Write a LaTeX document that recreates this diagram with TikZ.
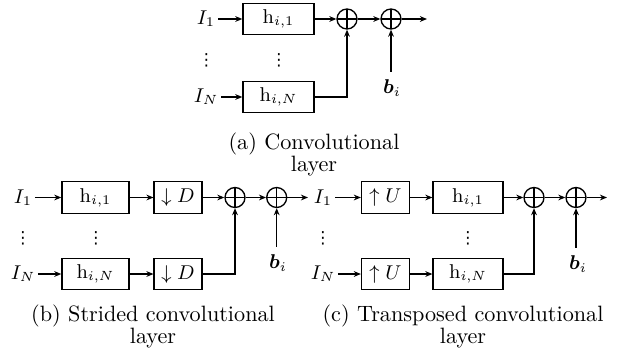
\documentclass[tikz,border=0pt]{standalone}
\usepackage{amsmath}
\usepackage{fontspec}
\newfontfamily\djv{DejaVu Sans}
\usetikzlibrary{arrows.meta}
\newcommand\shortvdots{{\djv\fontsize{7.5}{8}\selectfont ⋮}}
\begin{document}
\begin{tikzpicture}[x=0.4505pt,y=-0.4505pt,
  >={Stealth[length=3.2pt,width=2.6pt]},
  line width=0.6pt,
  every node/.style={font=\fontsize{9}{10}\selectfont},
  blk/.style={draw,minimum height=14.2pt,inner sep=0pt},
  hbox/.style={blk,minimum width=31.5pt},
  rbox/.style={blk,minimum width=21.5pt},
  sum/.style={draw,circle,minimum size=9pt,inner sep=0pt,
    path picture={\draw[line width=0.6pt] (path picture bounding box.north) -- (path picture bounding box.south)
      (path picture bounding box.west) -- (path picture bounding box.east);}},
  capt/.style={font=\fontsize{10}{10.3}\selectfont,align=center},
  sig/.style={inner sep=1pt},
  dts/.style={inner sep=0pt}
]
\useasboundingbox (0,0) rectangle (624,356);

% (a)
\node[sig] (a1) at (206,19) {$I_1$};
\node[sig] (aN) at (206,97) {$I_N$};
\node[hbox,minimum width=32pt] (ah1) at (278.5,19) {$\mathrm{h}_{i,1}$};
\node[hbox,minimum width=32pt] (ahN) at (278.5,97) {$\mathrm{h}_{i,N}$};
\node[dts] (adl) at (206.5,60) {\shortvdots};
\node[dts] (adh) at (279,60) {\shortvdots};
\node[sum] (as1) at (347,19) {};
\node[sum] (as2) at (391,19) {};
\coordinate (aout) at (427,19);
\node (ab) at (392,88) {$\boldsymbol{b}_i$};
\draw[->] (a1) -- (ah1);
\draw[->] (aN) -- (ahN);
\draw[->] (ah1) -- (as1);
\draw[->] (as1) -- (as2);
\draw[->] (as2) -- (aout);
\draw[->] (ahN.east) -| (as1.south);
\draw[->] (ab.north -| as2) -- (as2.south);
\node[capt] (capa) at (314,154.5) {(a) Convolutional\\layer};

% (b)
\node[sig] (b1) at (23,197.5) {$I_1$};
\node[sig] (bN) at (23,274) {$I_N$};
\node[hbox,minimum width=30.2pt] (bh1) at (95.5,197.5) {$\mathrm{h}_{i,1}$};
\node[hbox,minimum width=30.2pt] (bhN) at (95.5,274) {$\mathrm{h}_{i,N}$};
\node[rbox] (bd1) at (178,197.5) {$\downarrow D$};
\node[rbox] (bdN) at (178,274) {$\downarrow D$};
\node[dts] (bdl) at (23,238) {\shortvdots};
\node[dts] (bdh) at (96,238) {\shortvdots};
\node[sum] (bs1) at (235,197.5) {};
\node[sum] (bs2) at (276.7,197.5) {};
\coordinate (bout) at (308,197.5);
\node (bb) at (278,263) {$\boldsymbol{b}_i$};
\draw[->] (b1) -- (bh1);
\draw[->] (bN) -- (bhN);
\draw[->] (bh1) -- (bd1);
\draw[->] (bhN) -- (bdN);
\draw[->] (bd1) -- (bs1);
\draw[->] (bs1) -- (bs2);
\draw[->] (bs2) -- (bout);
\draw[->] (bdN.east) -| (bs1.south);
\draw[->] (bb.north -| bs2) -- (bs2.south);
\node[capt] (capb) at (153,326.5) {(b) Strided convolutional\\layer};

% (c)
\node[sig] (c1) at (323,197.5) {$I_1$};
\node[sig] (cN) at (323,274) {$I_N$};
\node[rbox] (cu1) at (385.4,197.5) {$\uparrow U$};
\node[rbox] (cuN) at (385.4,274) {$\uparrow U$};
\node[hbox] (ch1) at (468,197.5) {$\mathrm{h}_{i,1}$};
\node[hbox] (chN) at (468,274) {$\mathrm{h}_{i,N}$};
\node[dts] (cdl) at (323,238) {\shortvdots};
\node[dts] (cdh) at (468,238) {\shortvdots};
\node[sum] (cs1) at (534,197.5) {};
\node[sum] (cs2) at (576,197.5) {};
\coordinate (cout) at (607,197.5);
\node (cb) at (578,264) {$\boldsymbol{b}_i$};
\draw[->] (c1) -- (cu1);
\draw[->] (cN) -- (cuN);
\draw[->] (cu1) -- (ch1);
\draw[->] (cuN) -- (chN);
\draw[->] (ch1) -- (cs1);
\draw[->] (cs1) -- (cs2);
\draw[->] (cs2) -- (cout);
\draw[->] (chN.east) -| (cs1.south);
\draw[->] (cb.north -| cs2) -- (cs2.south);
\node[capt] (capc) at (463,326.5) {(c) Transposed convolutional\\layer};
\end{tikzpicture}
\end{document}
